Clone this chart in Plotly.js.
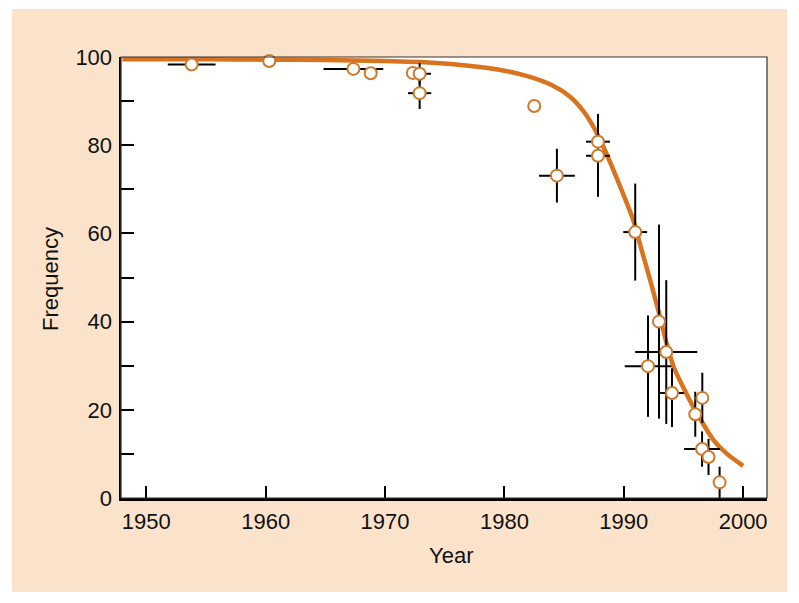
<!DOCTYPE html>
<html>
<head>
<meta charset="utf-8">
<script src="https://cdn.plot.ly/plotly-3.0.1.min.js"></script>
<style>html,body{margin:0;padding:0;background:#fff;}#chart{width:799px;height:603px;}</style>
</head>
<body>
<div id="chart"></div>
<script>
// Observed frequency by year (open circles)
const years      = [1953.8, 1960.3, 1967.35, 1968.8, 1972.33, 1972.9, 1972.9, 1982.5, 1984.4, 1987.84, 1987.84, 1990.96, 1992.95, 1993.56, 1992.03, 1994.04, 1996.58, 1995.99, 1996.56, 1997.1, 1998.03];
const freq       = [98.3, 99.1, 97.3, 96.3, 96.4, 96.2, 91.8, 88.9, 73.1, 80.8, 77.6, 60.3, 40.0, 33.1, 29.9, 23.8, 22.7, 19.0, 11.1, 9.3, 3.55];
const yearErr    = [2.0, 0, 2.5, 0, 0, 0.95, 0.97, 0, 1.5, 1.0, 1.0, 1.0, 0, 2.6, 1.95, 1.0, 0, 0, 1.5, 0, 0];
const freqErrUp  = [0, 0, 0, 0, 0, 2.4, 3.6, 0, 6.1, 6.3, 9.3, 11.0, 22.0, 16.3, 11.5, 5.6, 5.7, 5.1, 4.0, 4.1, 3.55];
const freqErrDn  = [0, 0, 0, 0, 0, 2.4, 3.6, 0, 6.1, 6.3, 9.3, 11.0, 22.0, 16.3, 11.5, 7.7, 5.7, 5.1, 4.0, 4.1, 3.55];

// Fitted curve
const curveYears = [1948, 1955, 1960, 1965, 1970, 1974, 1977, 1980, 1982, 1984, 1985.5, 1986.6, 1987.5, 1988.3, 1989.1, 1990, 1990.8, 1991.5, 1992.2, 1992.9, 1993.6, 1994.2, 1995.15, 1995.85, 1996.7, 1997.5, 1998.65, 2000];
const curveFreq  = [99.5, 99.5, 99.4, 99.3, 99.1, 98.7, 98.0, 96.9, 95.6, 93.6, 91.0, 87.8, 84.0, 79.6, 74.6, 68.6, 63.0, 56.2, 49.5, 42.5, 35.0, 29.6, 24.2, 20.5, 16.6, 13.2, 10.0, 7.3];

// Tick labels
const xTicks = [1950, 1960, 1970, 1980, 1990, 2000];
const yTicks = [0, 20, 40, 60, 80, 100];

const orange = '#D9731E';
const markerEdge = '#CD7A2B';
const beige = '#FBE3CB';
const font = {family: '"Liberation Sans", Arial, Helvetica, sans-serif', size: 22, color: '#111'};

const traces = [
  {
    x: curveYears, y: curveFreq, type: 'scatter', mode: 'lines',
    line: {color: orange, width: 4.5, shape: 'spline', smoothing: 0.8},
    hoverinfo: 'skip', showlegend: false
  },
  {
    x: years, y: freq, type: 'scatter', mode: 'markers',
    marker: {symbol: 'circle', size: 12, color: '#ffffff', line: {color: markerEdge, width: 2}},
    error_x: {type: 'data', array: yearErr, color: '#000', thickness: 2, width: 0},
    error_y: {type: 'data', symmetric: false, array: freqErrUp, arrayminus: freqErrDn, color: '#000', thickness: 2, width: 0},
    cliponaxis: false, showlegend: false
  }
];

const L = 121, R = 767, T = 57, B = 498;
const W = R - L, H = B - T;
const px = v => (v - L) / W;
const py = v => (B - v) / H;

const layout = {
  width: 799, height: 603,
  margin: {l: L, r: 799 - R, t: T, b: 603 - B, pad: 0},
  paper_bgcolor: '#ffffff', plot_bgcolor: '#ffffff',
  font: font,
  showlegend: false,
  xaxis: {
    range: [1947.88, 2002.0], tickvals: xTicks, ticktext: xTicks.map(String),
    ticks: 'inside', ticklen: 12, tickwidth: 2, tickcolor: '#000',
    showline: true, linewidth: 2.5, linecolor: '#000',
    showgrid: false, zeroline: false, tickfont: font, ticklabelstandoff: 2
  },
  yaxis: {
    range: [0, 100], tickvals: yTicks, ticktext: yTicks.map(String),
    ticks: 'inside', ticklen: 13, tickwidth: 2, tickcolor: '#000',
    minor: {dtick: 10, ticks: 'inside', ticklen: 13, tickwidth: 2, tickcolor: '#000', showgrid: false},
    showline: true, linewidth: 2.5, linecolor: '#000',
    showgrid: false, zeroline: false, tickfont: font, ticklabelstandoff: 2
  },
  shapes: [
    {type: 'rect', xref: 'paper', yref: 'paper', x0: px(12), x1: px(787), y0: py(592), y1: py(9),
     fillcolor: beige, line: {width: 0}, layer: 'below'},
    {type: 'rect', xref: 'paper', yref: 'paper', x0: 0, x1: 1, y0: 0, y1: 1,
     fillcolor: '#ffffff', line: {width: 0}, layer: 'below'},
    {type: 'rect', xref: 'paper', yref: 'paper', x0: 0, x1: 1, y0: 0, y1: 1,
     fillcolor: 'rgba(0,0,0,0)', line: {width: 1.2, color: '#333'}, layer: 'above'}
  ],
  annotations: [
    {text: 'Year', xref: 'paper', yref: 'paper', x: px(451), y: py(555), xanchor: 'center', yanchor: 'middle', showarrow: false, font: font},
    {text: 'Frequency', xref: 'paper', yref: 'paper', x: px(50), y: py(279), xanchor: 'center', yanchor: 'middle', textangle: -90, showarrow: false, font: font}
  ]
};

Plotly.newPlot('chart', traces, layout, {displayModeBar: false, staticPlot: true});
</script>
</body>
</html>
